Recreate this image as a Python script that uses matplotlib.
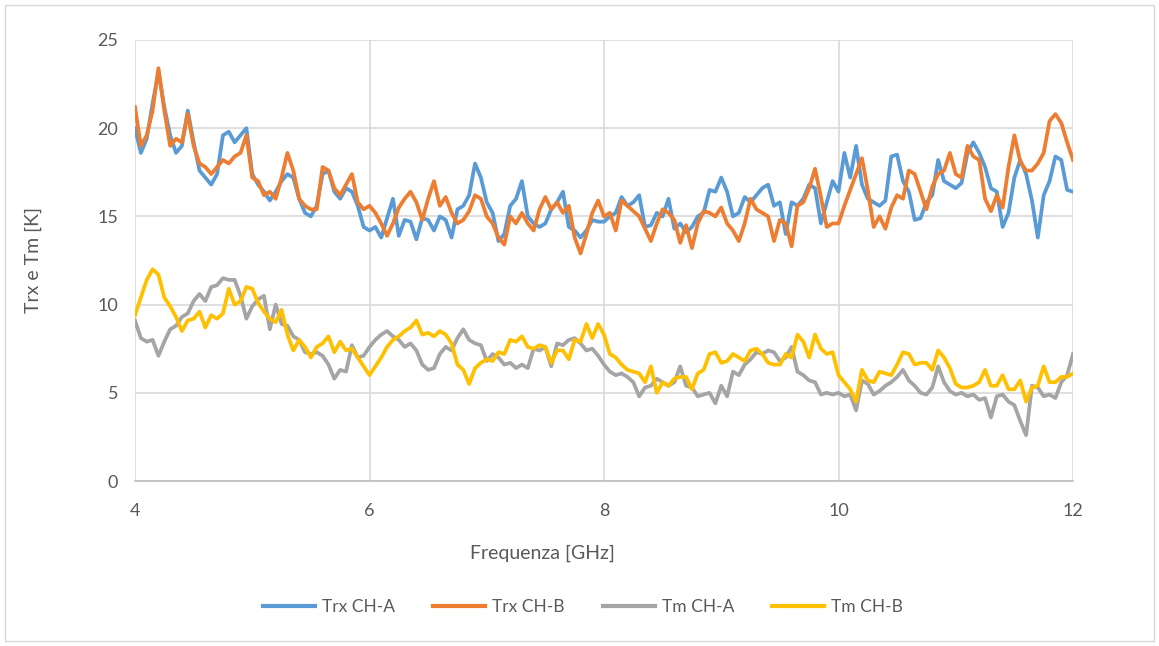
import numpy as np
import matplotlib
matplotlib.use("Agg")
import matplotlib.pyplot as plt
from matplotlib.patches import Rectangle

plt.rcParams['font.family'] = ['Lato', 'DejaVu Sans']

# Frequency axis (GHz), 0.05 GHz step
freq = np.round(np.arange(4.0, 12.0001, 0.05), 2)

trx_ch_a = [
    20.0, 18.6, 19.4, 21.4, 23.2, 21.2, 19.6, 18.6, 19.0, 21.0,
    19.2, 17.6, 17.2, 16.8, 17.4, 19.6, 19.8, 19.2, 19.6, 20.0,
    17.4, 16.8, 16.4, 15.9, 16.4, 17.0, 17.4, 17.2, 16.0, 15.2,
    15.0, 15.6, 17.4, 17.6, 16.4, 16.0, 16.6, 16.4, 15.6, 14.4,
    14.2, 14.4, 13.8, 14.9, 16.0, 13.9, 14.8, 14.7, 13.7, 14.9,
    14.8, 14.2, 15.0, 14.8, 13.8, 15.4, 15.6, 16.2, 18.0, 17.2,
    15.8, 15.2, 13.6, 14.0, 15.6, 16.0, 17.0, 15.0, 14.6, 14.4,
    14.6, 15.4, 15.8, 16.4, 14.4, 14.2, 13.8, 14.2, 14.8, 14.7,
    14.7, 15.0, 15.2, 16.1, 15.6, 15.8, 16.2, 14.4, 14.5, 15.2,
    15.0, 16.0, 14.3, 14.6, 14.1, 14.4, 15.0, 15.2, 16.5, 16.4,
    17.2, 16.4, 15.0, 15.2, 16.1, 15.8, 16.2, 16.6, 16.8, 15.6,
    15.8, 14.0, 15.8, 15.6, 16.0, 16.8, 16.6, 14.6, 15.8, 17.0,
    16.4, 18.6, 17.2, 19.0, 16.8, 16.0, 15.8, 15.6, 15.9, 18.4,
    18.5, 17.0, 16.4, 14.8, 14.9, 15.8, 16.2, 18.2, 17.0, 16.8,
    16.6, 16.9, 18.6, 19.2, 18.6, 17.8, 16.6, 16.4, 14.4, 15.2,
    17.2, 18.2, 17.4, 15.9, 13.8, 16.2, 17.0, 18.4, 18.2, 16.5,
    16.4,
]

trx_ch_b = [
    21.2, 19.0, 19.6, 21.0, 23.4, 21.0, 19.0, 19.4, 19.2, 20.8,
    19.0, 18.0, 17.8, 17.4, 17.8, 18.2, 18.0, 18.4, 18.6, 19.6,
    17.2, 17.0, 16.2, 16.4, 16.0, 17.2, 18.6, 17.6, 16.0, 15.6,
    15.4, 15.4, 17.8, 17.6, 16.6, 16.2, 16.8, 17.4, 15.8, 15.4,
    15.6, 15.2, 14.6, 13.9, 14.6, 15.5, 16.0, 16.4, 15.8, 14.8,
    16.0, 17.0, 15.6, 16.1, 15.2, 14.6, 14.8, 15.3, 16.2, 16.0,
    15.0, 14.6, 13.8, 13.4, 15.0, 14.6, 15.2, 14.6, 14.2, 15.4,
    16.1, 15.4, 15.8, 15.2, 15.6, 13.8, 12.9, 14.0, 15.2, 15.9,
    15.0, 15.2, 14.2, 15.9, 15.6, 15.3, 15.0, 14.3, 13.6, 14.6,
    15.4, 15.2, 14.8, 13.5, 14.5, 13.2, 14.6, 15.3, 15.2, 15.0,
    15.5, 14.6, 14.2, 13.6, 14.6, 16.0, 15.4, 15.2, 15.0, 13.6,
    14.8, 14.6, 13.3, 15.6, 15.8, 16.6, 17.7, 16.1, 14.4, 14.6,
    14.6, 15.6, 16.5, 17.4, 18.3, 16.5, 14.4, 15.0, 14.3, 15.5,
    16.2, 16.0, 17.6, 17.4, 16.4, 15.4, 16.7, 17.4, 17.6, 18.6,
    17.4, 17.2, 19.0, 18.4, 18.2, 16.0, 15.3, 16.2, 15.5, 17.8,
    19.6, 18.1, 17.6, 17.6, 18.0, 18.6, 20.4, 20.8, 20.3, 19.2,
    18.2,
]

tm_ch_a = [
    9.1, 8.1, 7.9, 8.0, 7.1, 7.9, 8.6, 8.8, 9.3, 9.5,
    10.2, 10.6, 10.2, 11.0, 11.1, 11.5, 11.4, 11.4, 10.5, 9.2,
    9.9, 10.3, 10.5, 8.6, 10.0, 8.9, 8.8, 8.2, 8.0, 7.3,
    7.2, 7.3, 7.1, 6.6, 5.8, 6.3, 6.2, 7.7, 7.0, 7.1,
    7.6, 8.0, 8.3, 8.5, 8.2, 8.0, 7.6, 7.8, 7.4, 6.6,
    6.3, 6.4, 7.2, 7.6, 7.4, 8.1, 8.6, 8.0, 7.8, 7.7,
    6.8, 7.2, 7.0, 6.6, 6.7, 6.4, 6.6, 6.4, 7.5, 7.4,
    7.6, 6.5, 7.8, 7.7, 8.0, 8.1, 7.8, 7.4, 7.5, 7.1,
    6.6, 6.2, 6.0, 6.1, 5.9, 5.6, 4.8, 5.3, 5.4, 5.8,
    5.6, 5.4, 5.6, 6.5, 5.4, 5.3, 4.8, 4.9, 5.0, 4.4,
    5.4, 4.8, 6.2, 6.0, 6.6, 6.9, 7.3, 7.2, 7.4, 7.3,
    6.8, 7.0, 7.6, 6.2, 6.0, 5.7, 5.6, 4.9, 5.0, 4.9,
    5.0, 4.8, 4.9, 4.0, 5.7, 5.5, 4.9, 5.1, 5.4, 5.6,
    5.9, 6.3, 5.7, 5.4, 5.0, 4.9, 5.3, 6.5, 5.6, 5.1,
    4.9, 5.0, 4.8, 4.9, 4.6, 4.7, 3.6, 4.8, 4.9, 4.5,
    4.3, 3.4, 2.6, 5.4, 5.3, 4.8, 4.9, 4.7, 5.6, 6.0,
    7.2,
]

tm_ch_b = [
    9.4, 10.4, 11.4, 12.0, 11.7, 10.4, 9.9, 9.3, 8.5, 9.1,
    9.2, 9.6, 8.7, 9.4, 9.2, 9.5, 10.9, 10.0, 10.2, 11.0,
    10.9, 10.1, 9.6, 9.2, 9.0, 9.7, 8.3, 7.4, 8.0, 7.6,
    7.0, 7.6, 7.8, 8.2, 7.3, 7.9, 7.4, 7.5, 7.0, 6.5,
    6.0, 6.5, 7.0, 7.6, 8.0, 8.2, 8.5, 8.7, 9.1, 8.3,
    8.4, 8.2, 8.5, 8.3, 7.8, 6.6, 6.3, 5.5, 6.4, 6.7,
    6.9, 6.8, 7.3, 7.2, 8.0, 7.9, 8.2, 7.6, 7.5, 7.7,
    7.6, 6.7, 7.4, 7.4, 6.9, 8.0, 7.9, 8.9, 8.1, 8.9,
    8.3, 7.2, 7.0, 6.6, 6.3, 6.2, 6.1, 5.6, 6.5, 5.0,
    5.6, 5.4, 5.8, 5.9, 5.9, 5.2, 6.1, 6.3, 7.2, 7.3,
    6.7, 6.8, 7.2, 7.0, 6.8, 7.4, 7.5, 7.2, 6.7, 6.6,
    6.6, 7.2, 7.0, 8.3, 7.9, 7.0, 8.3, 7.5, 7.2, 7.3,
    6.0, 5.6, 5.2, 4.5, 6.3, 5.7, 5.6, 6.2, 6.1, 6.0,
    6.6, 7.3, 7.2, 6.6, 6.7, 6.7, 6.3, 7.4, 7.0, 6.4,
    5.5, 5.3, 5.3, 5.4, 5.6, 6.3, 5.4, 5.4, 6.0, 5.2,
    5.2, 5.7, 4.5, 5.3, 5.4, 6.5, 5.6, 5.6, 5.9, 5.9,
    6.1,
]

series_labels = ["Trx CH-A", "Trx CH-B", "Tm CH-A", "Tm CH-B"]
series_colors = ["#5B9BD5", "#ED7D31", "#A5A5A5", "#FFC000"]
x_ticks = [4, 6, 8, 10, 12]
y_ticks = [0, 5, 10, 15, 20, 25]

W, H = 1159, 646
fig = plt.figure(figsize=(W / 100, H / 100), dpi=100)
ax = fig.add_axes([135 / W, 1 - 481 / H, (1073 - 135) / W, (481 - 40) / H])

for data, lab, col in zip([trx_ch_a, trx_ch_b, tm_ch_a, tm_ch_b], series_labels, series_colors):
    ax.plot(freq, data, color=col, lw=2.7, label=lab, solid_joinstyle='round')

ax.set_xlim(4, 12)
ax.set_ylim(0, 25)
ax.set_xticks(x_ticks)
ax.set_yticks(y_ticks)
ax.grid(True, color="#D9D9D9", lw=1.2)
ax.set_axisbelow(True)
for s in ["top", "right", "left"]:
    ax.spines[s].set_visible(False)
ax.spines["bottom"].set_color("#BFBFBF")
ax.spines["bottom"].set_linewidth(1.2)
ax.tick_params(axis="both", length=0, labelsize=13, labelcolor="#595959")
ax.tick_params(axis="x", pad=16)
ax.tick_params(axis="y", pad=12)

fig.text(542 / W, 1 - 553 / H, "Frequenza [GHz]", ha="center", va="center",
         fontsize=14, color="#595959")
fig.text(33 / W, 1 - 260 / H, "Trx e Tm [K]", ha="center", va="center",
         rotation=90, fontsize=14, color="#595959")

leg = fig.legend(loc="center", bbox_to_anchor=(583 / W, 1 - 607 / H), ncol=4,
                 frameon=False, fontsize=12.5, handlelength=3.0,
                 columnspacing=2.2, handletextpad=0.4)
for t in leg.get_texts():
    t.set_color("#595959")
for l in leg.get_lines():
    l.set_linewidth(3)

fig.patches.append(Rectangle((5 / W, 5 / H), 1 - 10 / W, 1 - 10 / H,
                             transform=fig.transFigure, fill=False,
                             edgecolor="#D9D9D9", lw=1))

fig.savefig("out.png", dpi=100)
